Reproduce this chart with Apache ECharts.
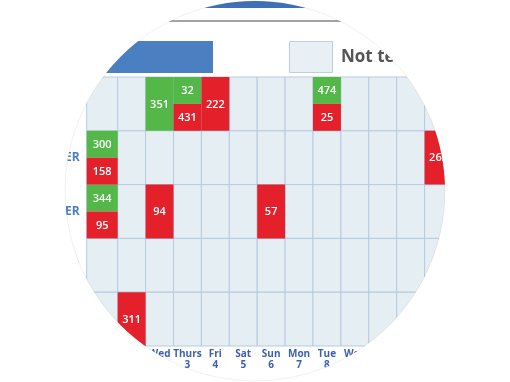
<!DOCTYPE html>
<html>
<head>
<meta charset="utf-8">
<script src="https://cdn.jsdelivr.net/npm/echarts@6/dist/echarts.min.js"></script>
<style>html,body{margin:0;padding:0;background:#fff}#c{width:510px;height:382px}</style>
</head>
<body>
<div id="c"></div>
<script>
const days = ['Mon\n31','Tue\n1','Wed\n2','Thurs\n3','Fri\n4','Sat\n5','Sun\n6','Mon\n7','Tue\n8','Wed\n9','Thurs\n10','Fri\n11','Sat\n12','Sun\n13'];
const dayIndex = [0,1,2,3,4,5,6,7,8,9,10,11,12,13];
const rows = ['PRODUCER','SUPPLIER','RETAILER','IMPORTER','EXPORTER'];
// [dayIndex, rowIndex, value, part]
const passed = [[2,0,351,'full'],[3,0,32,'top'],[8,0,474,'top'],[0,1,300,'top'],[0,2,344,'top']];
const failed = [[3,0,431,'bottom'],[4,0,222,'full'],[8,0,25,'bottom'],[0,1,158,'bottom'],[12,1,262,'full'],[0,2,95,'bottom'],[2,2,94,'full'],[6,2,57,'full'],[1,4,311,'full']];
const legendLabel = 'Not tested';

const bgCells = [];
dayIndex.forEach(d => rows.forEach((r, ri) => bgCells.push([d, ri])));

const GREEN = '#53b848', RED = '#e4202a', CELL = '#e5eef2', LINE = '#b7cae3';

function cellRect(api, params, d, r, part) {
  const c = api.coord([d, r]);
  const w = api.size([1, 0])[0];
  const h = api.size([0, 1])[1];
  let x0 = c[0] - w / 2, x1 = c[0] + w / 2;
  if (d === 0) x0 = params.coordSys.x;
  let y0 = c[1] - h / 2, y1 = c[1] + h / 2;
  if (part === 'top') y1 = c[1];
  if (part === 'bottom') y0 = c[1];
  return {x: x0, y: y0, width: x1 - x0, height: y1 - y0};
}

function valueSeries(name, data, color) {
  return {
    type: 'custom', name, data, z: 5,
    renderItem: (params, api) => {
      const d = api.value(0), r = api.value(1), v = api.value(2);
      const part = data[params.dataIndex][3];
      const rc = cellRect(api, params, d, r, part);
      return {
        type: 'group',
        children: [
          {type: 'rect', shape: rc, style: {fill: color}},
          {type: 'text', style: {text: String(v), x: rc.x + rc.width / 2, y: rc.y + rc.height / 2 + 0.5,
            align: 'center', verticalAlign: 'middle', fill: '#fff',
            font: '600 11px "Open Sans", sans-serif'}}
        ]
      };
    }
  };
}

const CX = 255, CY = 191, R = 190;

const chart = echarts.init(document.getElementById('c'), null, {renderer: 'canvas'});
chart.setOption({
  backgroundColor: '#fff',
  animation: false,
  grid: {left: 86.7, top: 77, width: 393.7, height: 269},
  xAxis: {
    type: 'value', min: -0.611, max: 13.5,
    splitLine: {show: false}, axisLine: {show: false}, axisTick: {show: false},
    axisLabel: {
      customValues: dayIndex, formatter: v => days[v] || '',
      color: '#3d5fb0', fontWeight: 'bold', fontSize: 10, lineHeight: 11,
      fontFamily: '"Open Sans", sans-serif', margin: 3
    }
  },
  yAxis: {
    type: 'category', data: rows, inverse: true,
    axisLine: {show: false}, axisTick: {show: false}, splitLine: {show: false},
    axisLabel: {color: '#4a7ec6', fontWeight: 'bold', fontSize: 12, fontFamily: '"Open Sans", sans-serif', margin: 7}
  },
  series: [
    {
      type: 'custom', data: bgCells, z: 2,
      renderItem: (params, api) => {
        const rc = cellRect(api, params, api.value(0), api.value(1), 'full');
        return {type: 'rect', shape: rc, style: {fill: CELL, stroke: LINE, lineWidth: 1}};
      }
    },
    valueSeries('Passed', passed, GREEN),
    valueSeries('Failed', failed, RED)
  ],
  graphic: [
    {type: 'rect', z: 1, shape: {x: 0, y: 0, width: 510, height: 8}, style: {fill: '#3f70b6'}},
    {type: 'rect', z: 1, shape: {x: 0, y: 20, width: 510, height: 2}, style: {fill: '#a3a3a3'}},
    {type: 'rect', z: 1, shape: {x: 0, y: 41, width: 213, height: 32}, style: {fill: '#4a7fc1'}},
    {type: 'rect', z: 1, shape: {x: 289.5, y: 41.5, width: 43, height: 31}, style: {fill: '#e8f0f5', stroke: '#b9cfe4', lineWidth: 1}},
    {type: 'text', z: 1, style: {text: legendLabel, x: 341, y: 57, verticalAlign: 'middle', fill: '#555',
      font: 'bold 17px "Open Sans", sans-serif'}},
    {type: 'ring', z: 100, shape: {cx: CX, cy: CY, r0: R, r: 450}, style: {fill: '#fff'}},
    {type: 'circle', z: 101, shape: {cx: CX, cy: CY, r: R}, style: {fill: 'none', stroke: 'rgba(0,0,0,0.06)', lineWidth: 1,
      shadowBlur: 5, shadowColor: 'rgba(0,0,0,0.35)', shadowOffsetX: 2, shadowOffsetY: 3}},
    {type: 'ring', z: 102, shape: {cx: CX, cy: CY, r0: R + 6, r: 450}, style: {fill: '#fff'}}
  ]
});
</script>
</body>
</html>
